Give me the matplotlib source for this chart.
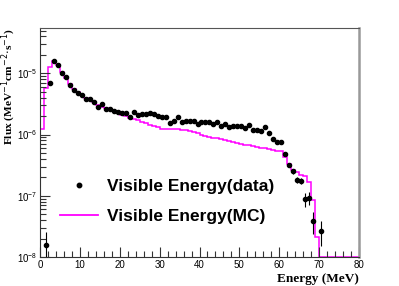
import matplotlib

matplotlib.use("Agg")
import matplotlib.pyplot as plt
import numpy as np
from matplotlib.lines import Line2D
from matplotlib.ticker import LogLocator, MultipleLocator, NullFormatter

MAGENTA = "#ff00ff"
SANS = "Liberation Sans"
SERIF = "Liberation Serif"

# MC histogram: 1 MeV bins from 0 to 80 MeV (0 = empty bin)
mc_edges = np.arange(0, 81, 1.0)
mc_flux = [
    1.25e-6, 5.7e-6, 1.29e-5, 1.62e-5, 1.38e-5, 1.07e-5, 8.5e-6, 6.6e-6, 5.6e-6, 4.9e-6,
    4.4e-6, 3.9e-6, 3.6e-6, 3.35e-6, 3.05e-6, 2.85e-6, 2.7e-6, 2.55e-6, 2.4e-6, 2.25e-6,
    2.1e-6, 1.98e-6, 1.88e-6, 1.8e-6, 1.72e-6, 1.62e-6, 1.55e-6, 1.45e-6, 1.38e-6, 1.32e-6,
    1.25e-6, 1.24e-6, 1.24e-6, 1.23e-6, 1.22e-6, 1.2e-6, 1.18e-6, 1.15e-6, 1.1e-6, 1.05e-6,
    1.0e-6, 9.5e-7, 9.1e-7, 8.9e-7, 8.7e-7, 8.5e-7, 8.3e-7, 7.9e-7, 7.5e-7, 7.2e-7,
    7.0e-7, 6.8e-7, 6.7e-7, 6.5e-7, 6.3e-7, 6.1e-7, 5.95e-7, 5.8e-7, 5.6e-7, 5.45e-7,
    5.3e-7, 4.3e-7, 3.3e-7, 2.6e-7, 2.4e-7, 2.2e-7, 2.1e-7, 1.67e-7, 8.5e-8, 2.1e-8,
    0, 0, 0, 0, 0, 0, 0, 0, 0, 0,
]

# data points (bin centres; the 69.5 MeV bin is empty)
data_energy = np.r_[np.arange(1.5, 69.0, 1.0), 70.5]
data_flux = [
    1.6e-8, 6.9e-6, 1.6e-5, 1.37e-5, 1.03e-5, 8.6e-6, 6.4e-6, 5.35e-6, 4.7e-6, 4.4e-6,
    3.8e-6, 3.78e-6, 3.45e-6, 2.8e-6, 3.16e-6, 2.65e-6, 2.59e-6, 2.45e-6, 2.37e-6, 2.23e-6,
    2.23e-6, 1.96e-6, 2.34e-6, 2.09e-6, 2.15e-6, 2.17e-6, 2.28e-6, 2.2e-6, 2.04e-6, 1.92e-6,
    1.96e-6, 1.56e-6, 1.65e-6, 1.96e-6, 1.61e-6, 1.65e-6, 1.69e-6, 1.69e-6, 1.49e-6, 1.63e-6,
    1.59e-6, 1.63e-6, 1.49e-6, 1.63e-6, 1.4e-6, 1.49e-6, 1.33e-6, 1.4e-6, 1.4e-6, 1.38e-6,
    1.27e-6, 1.42e-6, 1.19e-6, 1.19e-6, 1.16e-6, 1.33e-6, 1.07e-6, 8.4e-7, 7.6e-7, 7.6e-7,
    4.9e-7, 3.2e-7, 2.5e-7, 1.8e-7, 1.77e-7, 8.8e-8, 9.3e-8, 3.9e-8, 2.7e-8,
]
data_err = [1.0e-8] + [0.0] * 59 + [
    2.0e-8, 2.0e-8, 2.0e-8, 2.0e-8, 2.0e-8, 2.2e-8, 2.2e-8, 1.55e-8, 1.2e-8,
]

YMIN, YMAX = 1e-8, 5.5e-5

fig = plt.figure(figsize=(3.99, 2.86), dpi=100, facecolor="white")
ax = fig.add_axes([40 / 399, 29 / 286, 319 / 399, 229 / 286])

ax.stairs(np.clip(mc_flux, YMIN, None), mc_edges, color=MAGENTA, lw=1.1, baseline=None)
ax.errorbar(data_energy, data_flux, yerr=data_err, fmt="o", color="black", ms=3.0,
            elinewidth=0.8, capsize=0)

ax.set_yscale("log")
ax.set_xlim(0, 80)
ax.set_ylim(YMIN, YMAX)
ax.xaxis.set_major_locator(MultipleLocator(10))
ax.xaxis.set_minor_locator(MultipleLocator(2))
ax.yaxis.set_major_locator(LogLocator(base=10))
ax.yaxis.set_minor_locator(LogLocator(base=10, subs=np.arange(2, 10)))
ax.yaxis.set_minor_formatter(NullFormatter())

ax.tick_params(which="both", direction="in", top=False, right=False, labelsize=7,
               color="#333333", width=0.8)
ax.tick_params(which="major", length=7, pad=2)
ax.tick_params(which="minor", length=4)
for lab in ax.get_xticklabels() + ax.get_yticklabels():
    lab.set_family(SANS)

ax.spines["left"].set_color("#333333")
ax.spines["bottom"].set_color("#333333")
ax.spines["top"].set_color("#555555")
ax.spines["right"].set_color("#999999")
ax.spines["right"].set_linewidth(1.8)

ax.set_xlabel("Energy (MeV)", loc="right", family=SERIF, fontweight="bold", fontsize=9.5,
              labelpad=2)
ax.set_ylabel(r"Flux (MeV$^{-1}$cm$^{-2}$$\cdot$s$^{-1}$)", loc="top", family=SERIF,
              fontweight="bold", fontsize=8.2)
ax.yaxis.set_label_coords(-0.07, 1.0)

handles = [
    Line2D([], [], ls="none", marker="o", color="black", ms=3.2),
    Line2D([], [], color=MAGENTA, lw=1.3),
]
ax.legend(handles, ["Visible Energy(data)", "Visible Energy(MC)"], loc="upper left",
          bbox_to_anchor=(60 / 399, 1 - 179 / 286), bbox_transform=fig.transFigure,
          frameon=False, prop={"family": SANS, "weight": "bold", "size": 12.5},
          handlelength=2.2, handletextpad=0.5, labelspacing=0.85, borderpad=0,
          borderaxespad=0)

fig.savefig("out.png", dpi=100)
